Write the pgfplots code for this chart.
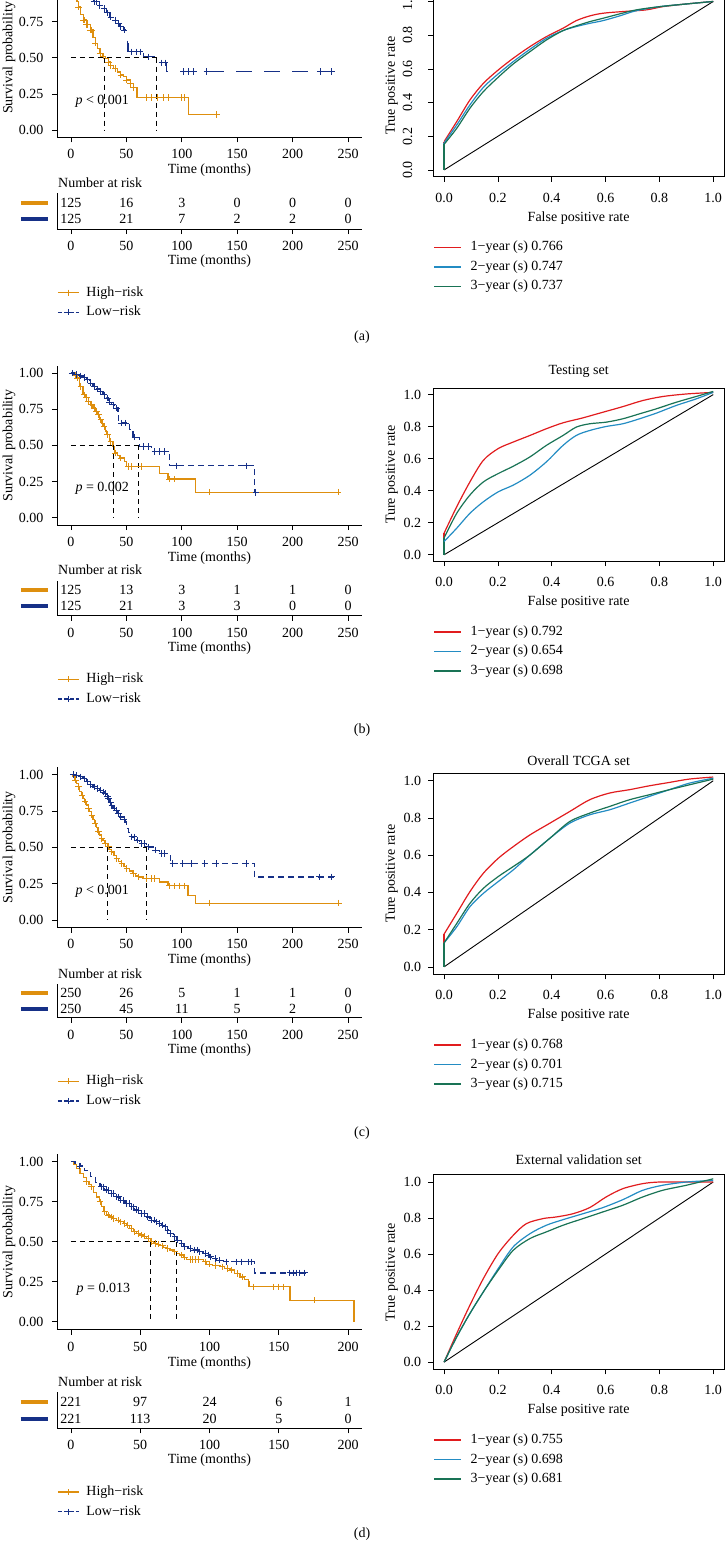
\documentclass[border=0pt]{standalone}
\usepackage{fontspec}
\setmainfont{Liberation Serif}
\usepackage{pgfplots}
\pgfplotsset{compat=1.18}
\definecolor{highc}{RGB}{222,143,14}
\definecolor{lowc}{RGB}{22,48,135}
\definecolor{rocred}{RGB}{225,28,30}
\definecolor{rocblue}{RGB}{35,140,195}
\definecolor{rocgreen}{RGB}{25,115,85}
\pgfplotsset{
  every axis/.append style={font=\fontsize{14}{16}\selectfont},
  every tick label/.append style={font=\fontsize{14}{16}\selectfont},
  kmcommon/.style={
    scale only axis, width=305pt,
    axis lines=left, axis line style={-, line width=0.7pt, black},
    tick align=outside, major tick length=5pt,
    tick style={black, line width=0.7pt},
    xtick={0,50,100,150,200,250}, xticklabels={0,50,100,150,200,250},
    xticklabel style={yshift=-3.5pt},
    xlabel={Time (months)},
    xlabel style={at={(axis description cs:0.5,0)}, anchor=center, yshift=-33pt},
  },
  km/.style={kmcommon, ymin=-0.05, ymax=1.05,
    ytick={0,0.25,0.5,0.75,1}, yticklabels={0.00,0.25,0.50,0.75,1.00},
    yticklabel style={xshift=-5pt},
    ylabel={Survival probability},
    ylabel style={at={(axis description cs:-0.157,0.5)}, anchor=center}},
  risk/.style={kmcommon, ymin=0.4, ymax=2.6, ytick=\empty, clip=false,
    xlabel style={yshift=1pt},
    title={Number at risk},
    every axis title/.style={at={(axis description cs:0,1)}, anchor=base west, inner sep=0pt, xshift=1pt, yshift=6pt},
    legend style={at={(axis description cs:0,0)}, anchor=north west, yshift=-56pt, draw=none, fill=none, inner sep=0pt, row sep=4.5pt, legend cell align=left, nodes={inner sep=1pt, text height=10pt, text depth=3pt}},
    legend image code/.code={\draw[mark repeat=2, mark phase=2, ##1] plot coordinates {(0pt,0pt) (10.5pt,0pt) (21pt,0pt)}; \path (27pt,0pt);},
  },
  rt/.style={draw=none, mark=none, forget plot, nodes near coords, point meta=explicit symbolic,
    every node near coord/.style={anchor=center, inner sep=0pt, text=black}},
  hi/.style={highc, line width=1.3pt, const plot, forget plot},
  lo/.style={lowc, line width=1.3pt, const plot, dash pattern=on 6pt off 4pt, forget plot},
  hicens/.style={highc, only marks, mark=+, mark size=3.2pt, mark options={line width=0.9pt, solid}, forget plot},
  locens/.style={lowc, only marks, mark=+, mark size=3.2pt, mark options={line width=0.9pt, solid}, forget plot},
  med/.style={black, line width=0.9pt, dash pattern=on 5pt off 4pt, forget plot},
  roc/.style={scale only axis, width=290.7pt, xmin=-0.04, xmax=1.04, ymin=-0.04, ymax=1.04,
    axis line style={line width=0.7pt, black},
    tick align=outside, major tick length=5pt, tick style={black, line width=0.7pt},
    xtick pos=left, ytick pos=left,
    xtick={0,0.2,0.4,0.6,0.8,1}, xticklabels={0.0,0.2,0.4,0.6,0.8,1.0},
    ytick={0,0.2,0.4,0.6,0.8,1}, yticklabels={0.0,0.2,0.4,0.6,0.8,1.0},
    xticklabel style={yshift=-7.5pt},
    xlabel={False positive rate},
    xlabel style={at={(axis description cs:0.5,0)}, anchor=center, yshift=-41pt},
    ylabel style={at={(axis description cs:-0.143,0.5)}, anchor=center},
    every axis title/.style={at={(axis description cs:0.5,1)}, anchor=center, yshift=15pt},
    legend style={at={(axis description cs:0,0)}, anchor=north west, yshift=-63pt, draw=none, fill=none, inner sep=0pt, row sep=4.5pt, legend cell align=left, nodes={inner sep=1pt, text height=10pt, text depth=3pt}},
    legend image code/.code={\draw[##1] (0pt,0pt) -- (27pt,0pt); \path (35pt,0pt);},
  },
  rochl/.style={yticklabel style={xshift=-3.7pt}},
  rr/.style={rocred, line width=1.2pt},
  rb/.style={rocblue, line width=1.2pt},
  rg/.style={rocgreen, line width=1.2pt},
  diag/.style={black, line width=0.9pt, forget plot},
}
\begin{document}
\begin{tikzpicture}[font=\fontsize{14}{16}\selectfont]
\useasboundingbox (0pt,0pt) rectangle (725pt,-1550pt);
\clip (0pt,0pt) rectangle (725pt,-1550pt);

% ================= (a) =================
\begin{axis}[km, height=159.3pt, at={(57pt,-137.3pt)}, anchor=south west, xmin=-12.5, xmax=262.5]
\addplot[hi] coordinates {(0,1) (1,0.99) (2,0.975) (3,0.95) (4,0.92) (5.4,0.886) (7,0.85) (9,0.8) (11.4,0.76) (14,0.73) (17.4,0.69) (20,0.64) (22,0.6) (24,0.565) (26.4,0.53) (29,0.51) (31,0.495) (34,0.47) (36,0.445) (38.4,0.426) (42,0.4) (45,0.38) (47.4,0.368) (50,0.345) (53.5,0.322) (56.5,0.295) (59.5,0.226) (106,0.108) (134.5,0.108)};
\addplot[lo, dash pattern=on 16pt off 12pt] coordinates {(0,1) (5,0.99) (10,0.97) (15,0.93) (20.4,0.886) (25,0.86) (29.4,0.84) (32,0.81) (35.4,0.78) (38,0.76) (41.4,0.737) (44,0.715) (47.4,0.69) (49,0.66) (49.8,0.645) (51,0.6) (51.5,0.541) (65.5,0.506) (77.5,0.465) (86.5,0.403) (236.6,0.403)};
\addplot[hicens] coordinates {(7,0.85) (11.4,0.76) (12.5,0.76) (14,0.73) (15,0.73) (17.4,0.69) (19,0.69) (22,0.6) (26.4,0.53) (29,0.51) (34,0.47) (36,0.445) (40,0.426) (45,0.38) (50,0.345) (53.5,0.322) (56.5,0.295) (68,0.226) (73,0.226) (78,0.226) (83.5,0.226) (88,0.226) (100,0.226) (102,0.226) (131.5,0.108)};
\addplot[locens] coordinates {(21,0.886) (23,0.886) (26,0.86) (30,0.84) (33,0.81) (36,0.78) (40,0.76) (43,0.737) (45,0.715) (48,0.69) (55,0.541) (59.5,0.541) (62.5,0.541) (70,0.506) (82,0.465) (85,0.465) (101.5,0.403) (106,0.403) (110.5,0.403) (122.5,0.403) (224.6,0.403) (235,0.403)};
\addplot[med] coordinates {(0,0.5) (77.5,0.5)};
\addplot[med] coordinates {(30,0.5) (30,0)};
\addplot[med] coordinates {(77.5,0.5) (77.5,0)};
\node[anchor=west, inner sep=0pt] at (axis cs:4,0.2) {\textit{p} < 0.001};
\end{axis}
\begin{axis}[risk, height=36pt, at={(57pt,-229pt)}, anchor=south west, xmin=-12.5, xmax=262.5]
\addplot[highc, line width=4pt, forget plot] coordinates {(-45.1,2) (-20.2,2)};
\addplot[lowc, line width=4pt, forget plot] coordinates {(-45.1,1) (-20.2,1)};
\addplot[rt] coordinates {(0,2) [125] (50,2) [16] (100,2) [3] (150,2) [0] (200,2) [0] (250,2) [0]};
\addplot[rt] coordinates {(0,1) [125] (50,1) [21] (100,1) [7] (150,1) [2] (200,1) [2] (250,1) [0]};
\addlegendimage{highc, line width=1.2pt, mark=+, mark size=3pt, mark options={solid, line width=0.8pt}}
\addlegendentry{High−risk}
\addlegendimage{lowc, line width=1.2pt, dash pattern=on 4pt off 2pt, mark=+, mark size=3pt, mark options={solid, line width=0.8pt}}
\addlegendentry{Low−risk}
\end{axis}
\begin{axis}[roc, height=182pt, at={(433.3pt,-176.7pt)}, anchor=south west,
  yticklabel style={xshift=-12.5pt, rotate=90, anchor=south},
  ylabel={True positive rate}]
\addplot[diag] coordinates {(0,0) (1,1)};
\addplot[rr, forget plot] coordinates {(0,0) (0,0.168)};
\addplot[rb, forget plot] coordinates {(0,0) (0,0.16)};
\addplot[rg, forget plot] coordinates {(0,0) (0,0.152)};
\addplot[rr, smooth] coordinates {(0,0.168) (0.047,0.287) (0.096,0.415) (0.146,0.514) (0.201,0.593) (0.257,0.663) (0.319,0.732) (0.38,0.791) (0.442,0.841) (0.491,0.886) (0.541,0.914) (0.59,0.93) (0.664,0.94) (0.751,0.95) (0.812,0.969) (0.899,0.985) (1,1)};
\addlegendentry{1−year (s) 0.766}
\addplot[rb, smooth] coordinates {(0,0.16) (0.047,0.267) (0.096,0.386) (0.146,0.49) (0.201,0.57) (0.257,0.643) (0.319,0.716) (0.38,0.781) (0.442,0.827) (0.491,0.851) (0.541,0.87) (0.59,0.886) (0.652,0.914) (0.714,0.945) (0.8,0.969) (0.9,0.985) (1,1)};
\addlegendentry{2−year (s) 0.747}
\addplot[rg, smooth] coordinates {(0,0.152) (0.047,0.247) (0.096,0.366) (0.146,0.465) (0.201,0.55) (0.257,0.629) (0.319,0.702) (0.38,0.771) (0.442,0.827) (0.491,0.855) (0.541,0.88) (0.59,0.9) (0.652,0.926) (0.714,0.95) (0.8,0.969) (0.9,0.985) (1,1)};
\addlegendentry{3−year (s) 0.737}
\end{axis}
\node at (362pt,-337pt) {(a)};

% ================= (b) =================
\begin{axis}[km, height=159.2pt, at={(57pt,-525pt)}, anchor=south west, xmin=-12.5, xmax=262.5]
\addplot[hi] coordinates {(0,1) (3,0.985) (5,0.965) (8,0.908) (11,0.85) (13,0.83) (15.6,0.804) (18,0.78) (20,0.758) (22,0.735) (24.6,0.712) (26,0.677) (28,0.65) (29,0.631) (31,0.6) (32,0.574) (35,0.528) (38,0.493) (39.6,0.447) (42,0.43) (44,0.412) (48.6,0.389) (50,0.355) (80,0.304) (87.7,0.267) (112.6,0.177) (242,0.177)};
\addplot[lo] coordinates {(0,1) (4,0.99) (8,0.98) (11,0.97) (14,0.954) (17,0.93) (20,0.908) (23,0.89) (26,0.873) (29,0.85) (32,0.827) (34,0.8) (36.6,0.781) (39.6,0.758) (42.6,0.735) (43,0.654) (53,0.608) (56,0.557) (62,0.493) (72.7,0.459) (89,0.359) (165.8,0.175) (166.5,0.175)};
\addplot[hicens] coordinates {(4,0.985) (6,0.965) (9,0.908) (12,0.85) (14,0.83) (16,0.804) (19,0.78) (21,0.758) (23,0.735) (25,0.712) (27,0.677) (30,0.631) (33,0.574) (36,0.528) (40,0.447) (45,0.412) (51.6,0.355) (54.7,0.355) (63.7,0.355) (89,0.267) (93.7,0.267) (125,0.177) (241,0.177)};
\addplot[locens] coordinates {(1,1) (5,0.99) (9,0.98) (12,0.97) (15,0.954) (18,0.93) (21,0.908) (24,0.89) (27,0.873) (30,0.85) (33,0.827) (35,0.8) (38,0.781) (41,0.758) (45.6,0.654) (49.5,0.654) (57.6,0.557) (65,0.493) (69.7,0.493) (75.7,0.459) (80,0.459) (84.7,0.459) (95,0.359) (158,0.359) (166.7,0.175)};
\addplot[med] coordinates {(0,0.5) (61.3,0.5)};
\addplot[med] coordinates {(38,0.5) (38,0)};
\addplot[med] coordinates {(61.3,0.5) (61.3,0)};
\node[anchor=west, inner sep=0pt] at (axis cs:4,0.2) {\textit{p} = 0.002};
\end{axis}
\begin{axis}[risk, height=35.2pt, at={(57pt,-615.7pt)}, anchor=south west, xmin=-12.5, xmax=262.5]
\addplot[highc, line width=4pt, forget plot] coordinates {(-45.1,2) (-20.2,2)};
\addplot[lowc, line width=4pt, forget plot] coordinates {(-45.1,1) (-20.2,1)};
\addplot[rt] coordinates {(0,2) [125] (50,2) [13] (100,2) [3] (150,2) [1] (200,2) [1] (250,2) [0]};
\addplot[rt] coordinates {(0,1) [125] (50,1) [21] (100,1) [3] (150,1) [3] (200,1) [0] (250,1) [0]};
\addlegendimage{highc, line width=1.2pt, mark=+, mark size=3pt, mark options={solid, line width=0.8pt}}
\addlegendentry{High−risk}
\addlegendimage{lowc, line width=1.2pt, dash pattern=on 4pt off 2pt, mark=+, mark size=3pt, mark options={solid, line width=0.8pt}}
\addlegendentry{Low−risk}
\end{axis}
\begin{axis}[roc, rochl, height=173pt, at={(433.3pt,-561.2pt)}, anchor=south west,
  title={Testing set}, title style={yshift=2pt}, ylabel={Ture positive rate}]
\addplot[diag] coordinates {(0,0) (1,1)};
\addplot[rr, forget plot] coordinates {(0,0) (0,0.135)};
\addplot[rb, forget plot] coordinates {(0,0) (0,0.083)};
\addplot[rg, forget plot] coordinates {(0,0) (0,0.105)};
\addplot[rr, smooth] coordinates {(0,0.135) (0.047,0.3) (0.096,0.455) (0.146,0.59) (0.201,0.663) (0.257,0.704) (0.319,0.745) (0.38,0.787) (0.442,0.824) (0.516,0.855) (0.59,0.89) (0.664,0.925) (0.738,0.963) (0.812,0.988) (0.9,1.004) (1,1.014)};
\addlegendentry{1−year (s) 0.792}
\addplot[rb, smooth] coordinates {(0,0.083) (0.047,0.166) (0.096,0.259) (0.146,0.331) (0.201,0.393) (0.257,0.435) (0.319,0.497) (0.38,0.58) (0.442,0.683) (0.491,0.745) (0.541,0.776) (0.602,0.801) (0.664,0.818) (0.726,0.849) (0.788,0.884) (0.862,0.932) (0.936,0.973) (1,1.014)};
\addlegendentry{2−year (s) 0.654}
\addplot[rg, smooth] coordinates {(0,0.105) (0.047,0.259) (0.096,0.373) (0.146,0.455) (0.201,0.507) (0.257,0.553) (0.319,0.611) (0.38,0.683) (0.442,0.745) (0.491,0.797) (0.541,0.818) (0.602,0.828) (0.664,0.849) (0.726,0.88) (0.788,0.911) (0.862,0.952) (0.936,0.988) (1,1.02)};
\addlegendentry{3−year (s) 0.698}
\end{axis}
\node at (362pt,-730pt) {(b)};

% ================= (c) =================
\begin{axis}[km, height=160.3pt, at={(57pt,-927.5pt)}, anchor=south west, xmin=-12.5, xmax=262.5]
\addplot[hi] coordinates {(0,1) (2,0.985) (3.6,0.961) (5,0.94) (6.6,0.915) (8,0.885) (9.6,0.858) (11,0.835) (12.6,0.812) (14,0.79) (15.6,0.767) (17,0.745) (18.6,0.721) (20,0.69) (21.6,0.664) (23,0.635) (24.6,0.606) (26,0.585) (27.6,0.561) (29,0.545) (30.6,0.526) (33.6,0.503) (35,0.486) (36.6,0.469) (39,0.445) (41,0.423) (43,0.405) (45.6,0.389) (48,0.37) (50,0.355) (53,0.338) (56,0.32) (58,0.307) (60.7,0.297) (65,0.286) (80,0.263) (87.7,0.236) (105.7,0.172) (112.6,0.117) (243.8,0.117)};
\addplot[lo] coordinates {(0,1) (4,0.995) (8,0.984) (11,0.97) (14,0.95) (17,0.93) (20,0.915) (23,0.905) (26,0.892) (28,0.88) (30.6,0.87) (32,0.85) (33.6,0.835) (35,0.81) (36.6,0.789) (38,0.77) (39.6,0.755) (42,0.73) (44,0.709) (47,0.69) (49,0.675) (50,0.629) (52,0.6) (54.7,0.572) (59,0.549) (62,0.526) (68,0.503) (74,0.48) (80,0.458) (87.7,0.446) (89.8,0.389) (165.8,0.297) (237.8,0.297)};
\addplot[hicens] coordinates {(4,0.961) (7,0.915) (10,0.858) (13,0.812) (16,0.767) (19,0.721) (22,0.664) (25,0.606) (28,0.561) (31,0.526) (34,0.503) (37,0.469) (41.5,0.423) (46,0.389) (50.5,0.355) (56.5,0.32) (61,0.297) (68,0.286) (72.7,0.286) (75.7,0.286) (89,0.236) (93.7,0.236) (98,0.236) (102.7,0.236) (125,0.117) (241.7,0.117)};
\addplot[locens] coordinates {(2,1) (5,0.995) (9,0.984) (12,0.97) (15,0.95) (18,0.93) (21,0.915) (24,0.905) (27,0.892) (29,0.88) (31,0.87) (33,0.85) (34,0.835) (36,0.81) (37,0.789) (39,0.77) (41,0.755) (43,0.73) (45,0.709) (48,0.69) (55,0.572) (57,0.572) (60,0.549) (64,0.526) (66,0.526) (70,0.503) (76,0.48) (82,0.458) (84,0.458) (92,0.389) (101,0.389) (108.7,0.389) (120.7,0.389) (131,0.389) (158,0.389) (224,0.297) (235,0.297)};
\addplot[med] coordinates {(0,0.5) (68.2,0.5)};
\addplot[med] coordinates {(33.3,0.5) (33.3,0)};
\addplot[med] coordinates {(68.2,0.5) (68.2,0)};
\node[anchor=west, inner sep=0pt] at (axis cs:4,0.2) {\textit{p} < 0.001};
\end{axis}
\begin{axis}[risk, height=33.5pt, at={(57pt,-1017.7pt)}, anchor=south west, xmin=-12.5, xmax=262.5]
\addplot[highc, line width=4pt, forget plot] coordinates {(-45.1,2) (-20.2,2)};
\addplot[lowc, line width=4pt, forget plot] coordinates {(-45.1,1) (-20.2,1)};
\addplot[rt] coordinates {(0,2) [250] (50,2) [26] (100,2) [5] (150,2) [1] (200,2) [1] (250,2) [0]};
\addplot[rt] coordinates {(0,1) [250] (50,1) [45] (100,1) [11] (150,1) [5] (200,1) [2] (250,1) [0]};
\addlegendimage{highc, line width=1.2pt, mark=+, mark size=3pt, mark options={solid, line width=0.8pt}}
\addlegendentry{High−risk}
\addlegendimage{lowc, line width=1.2pt, dash pattern=on 4pt off 2pt, mark=+, mark size=3pt, mark options={solid, line width=0.8pt}}
\addlegendentry{Low−risk}
\end{axis}
\begin{axis}[roc, rochl, height=201pt, at={(433.3pt,-974.3pt)}, anchor=south west,
  title={Overall TCGA set}, title style={yshift=-2pt}, ylabel={Ture positive rate}]
\addplot[diag] coordinates {(0,0) (1,1)};
\addplot[rr, forget plot] coordinates {(0,0) (0,0.176)};
\addplot[rb, forget plot] coordinates {(0,0) (0,0.129)};
\addplot[rg, forget plot] coordinates {(0,0) (0,0.129)};
\addplot[rr, smooth] coordinates {(0,0.176) (0.047,0.287) (0.096,0.404) (0.146,0.503) (0.201,0.583) (0.257,0.646) (0.319,0.709) (0.393,0.772) (0.467,0.835) (0.541,0.898) (0.615,0.934) (0.689,0.952) (0.763,0.973) (0.837,0.991) (0.911,1.009) (1,1.02)};
\addlegendentry{1−year (s) 0.768}
\addplot[rb, smooth] coordinates {(0,0.129) (0.047,0.215) (0.096,0.323) (0.146,0.395) (0.201,0.458) (0.257,0.521) (0.319,0.601) (0.393,0.691) (0.467,0.772) (0.541,0.817) (0.615,0.844) (0.689,0.88) (0.763,0.916) (0.837,0.952) (0.911,0.987) (1,1.014)};
\addlegendentry{2−year (s) 0.701}
\addplot[rg, smooth] coordinates {(0,0.129) (0.047,0.233) (0.096,0.341) (0.146,0.422) (0.201,0.485) (0.257,0.539) (0.319,0.601) (0.393,0.691) (0.467,0.781) (0.541,0.826) (0.615,0.862) (0.689,0.898) (0.763,0.925) (0.837,0.952) (0.911,0.978) (1,1.009)};
\addlegendentry{3−year (s) 0.715}
\end{axis}
\node at (362pt,-1133pt) {(c)};

% ================= (d) =================
\begin{axis}[km, height=176pt, at={(57pt,-1329.8pt)}, anchor=south west, xmin=-10, xmax=210,
  xtick={0,50,100,150,200}, xticklabels={0,50,100,150,200}]
\addplot[hi] coordinates {(0,1) (2,0.985) (4,0.96) (6.5,0.927) (9,0.9) (11.3,0.875) (13,0.86) (14.9,0.844) (16.5,0.81) (18.5,0.781) (20.5,0.75) (22.1,0.719) (24,0.69) (25.7,0.667) (28,0.656) (30.5,0.646) (33,0.635) (35.3,0.625) (38,0.615) (40.1,0.604) (42.5,0.583) (45,0.5625) (47.5,0.552) (49.8,0.542) (52,0.535) (54.6,0.522) (57.7,0.5) (60,0.49) (62,0.485) (64.2,0.475) (67,0.465) (69,0.458) (71.5,0.448) (73.8,0.4375) (76,0.427) (78.6,0.417) (81,0.404) (83.4,0.39) (95.5,0.375) (97.8,0.36) (102,0.352) (107.5,0.344) (111,0.333) (114.7,0.323) (118,0.302) (121.9,0.281) (125,0.265) (127.9,0.25) (128.5,0.219) (158,0.135) (204.3,0)};
\addplot[lo] coordinates {(0,1) (3,0.99) (6.5,0.973) (10,0.945) (14,0.91) (18,0.87) (21,0.844) (24.5,0.823) (28,0.802) (31.5,0.781) (35.3,0.76) (39,0.74) (42.5,0.719) (46,0.698) (49.8,0.677) (53.5,0.656) (57,0.635) (60,0.625) (63,0.615) (65.5,0.604) (67.8,0.594) (69.5,0.573) (71.4,0.552) (74,0.531) (76.2,0.51) (78.5,0.49) (81,0.469) (84.5,0.458) (88.2,0.448) (92,0.438) (95.4,0.427) (98,0.417) (100.2,0.406) (103,0.396) (105,0.385) (110,0.375) (132.7,0.306) (170,0.306)};
\addplot[hicens] coordinates {(11.3,0.875) (14.9,0.844) (21,0.75) (24.5,0.69) (27,0.667) (29,0.656) (31,0.646) (34,0.635) (36,0.625) (39,0.615) (41,0.604) (43.5,0.583) (46,0.5625) (48.5,0.552) (51,0.542) (53,0.535) (56,0.522) (58,0.5) (61,0.49) (63,0.485) (66,0.475) (70,0.458) (75,0.4375) (80,0.417) (82,0.404) (86,0.39) (88,0.39) (90,0.39) (92,0.39) (97,0.375) (100,0.36) (104,0.352) (109,0.344) (113,0.333) (116,0.323) (120,0.302) (124,0.281) (131.5,0.219) (146,0.219) (149.8,0.219) (153,0.219) (176,0.135)};
\addplot[locens] coordinates {(6.5,0.973) (22,0.844) (23.5,0.844) (25.5,0.823) (27,0.823) (29,0.802) (30.5,0.802) (33,0.781) (34.5,0.781) (36,0.76) (38,0.76) (40,0.74) (42,0.74) (44,0.719) (45.5,0.719) (47,0.698) (49,0.698) (51,0.677) (53,0.677) (55,0.656) (58,0.635) (60,0.635) (62,0.625) (64,0.615) (66,0.604) (68,0.594) (70,0.573) (72,0.552) (75,0.531) (77,0.51) (80,0.49) (82,0.469) (86,0.458) (89,0.448) (91,0.448) (93,0.438) (97,0.427) (99,0.417) (101,0.406) (104,0.396) (107,0.385) (112,0.375) (119.5,0.375) (123,0.375) (128,0.375) (130.3,0.375) (158,0.306) (160.3,0.306) (162.7,0.306) (165,0.306) (168.8,0.306)};
\addplot[med] coordinates {(0,0.5) (76.2,0.5)};
\addplot[med] coordinates {(57.7,0.5) (57.7,0)};
\addplot[med] coordinates {(76.2,0.5) (76.2,0)};
\node[anchor=west, inner sep=0pt] at (axis cs:4,0.2) {\textit{p} = 0.013};
\end{axis}
\begin{axis}[risk, height=36pt, at={(57pt,-1428.3pt)}, anchor=south west, xmin=-10, xmax=210,
  xtick={0,50,100,150,200}, xticklabels={0,50,100,150,200}]
\addplot[highc, line width=4pt, forget plot] coordinates {(-36.3,2) (-16.4,2)};
\addplot[lowc, line width=4pt, forget plot] coordinates {(-36.3,1) (-16.4,1)};
\addplot[rt] coordinates {(0,2) [221] (50,2) [97] (100,2) [24] (150,2) [6] (200,2) [1]};
\addplot[rt] coordinates {(0,1) [221] (50,1) [113] (100,1) [20] (150,1) [5] (200,1) [0]};
\addlegendimage{highc, line width=1.2pt, mark=+, mark size=3pt, mark options={solid, line width=0.8pt}}
\addlegendentry{High−risk}
\addlegendimage{lowc, line width=1.2pt, dash pattern=on 4pt off 2pt, mark=+, mark size=3pt, mark options={solid, line width=0.8pt}}
\addlegendentry{Low−risk}
\end{axis}
\begin{axis}[roc, rochl, height=194.5pt, at={(433.3pt,-1369.3pt)}, anchor=south west,
  title={External validation set}, ylabel={True positive rate}]
\addplot[diag] coordinates {(0,0) (1,1)};
\addplot[rr, smooth] coordinates {(0,0) (0.047,0.159) (0.096,0.316) (0.146,0.464) (0.201,0.603) (0.257,0.704) (0.306,0.769) (0.368,0.797) (0.417,0.806) (0.479,0.824) (0.541,0.858) (0.602,0.917) (0.664,0.963) (0.738,0.991) (0.8,1.0) (0.9,1.0) (1,1.0)};
\addlegendentry{1−year (s) 0.755}
\addplot[rb, smooth] coordinates {(0,0) (0.047,0.14) (0.096,0.27) (0.146,0.39) (0.201,0.519) (0.257,0.64) (0.319,0.713) (0.38,0.76) (0.442,0.791) (0.516,0.824) (0.59,0.858) (0.664,0.902) (0.738,0.954) (0.812,0.982) (0.9,1.0) (1,1.009)};
\addlegendentry{2−year (s) 0.698}
\addplot[rg, smooth] coordinates {(0,0) (0.047,0.14) (0.096,0.27) (0.146,0.39) (0.201,0.51) (0.257,0.621) (0.319,0.686) (0.38,0.723) (0.442,0.76) (0.516,0.797) (0.59,0.834) (0.664,0.871) (0.738,0.917) (0.812,0.954) (0.9,0.982) (1,1.018)};
\addlegendentry{3−year (s) 0.681}
\end{axis}
\node at (362pt,-1534pt) {(d)};
\end{tikzpicture}
\end{document}
